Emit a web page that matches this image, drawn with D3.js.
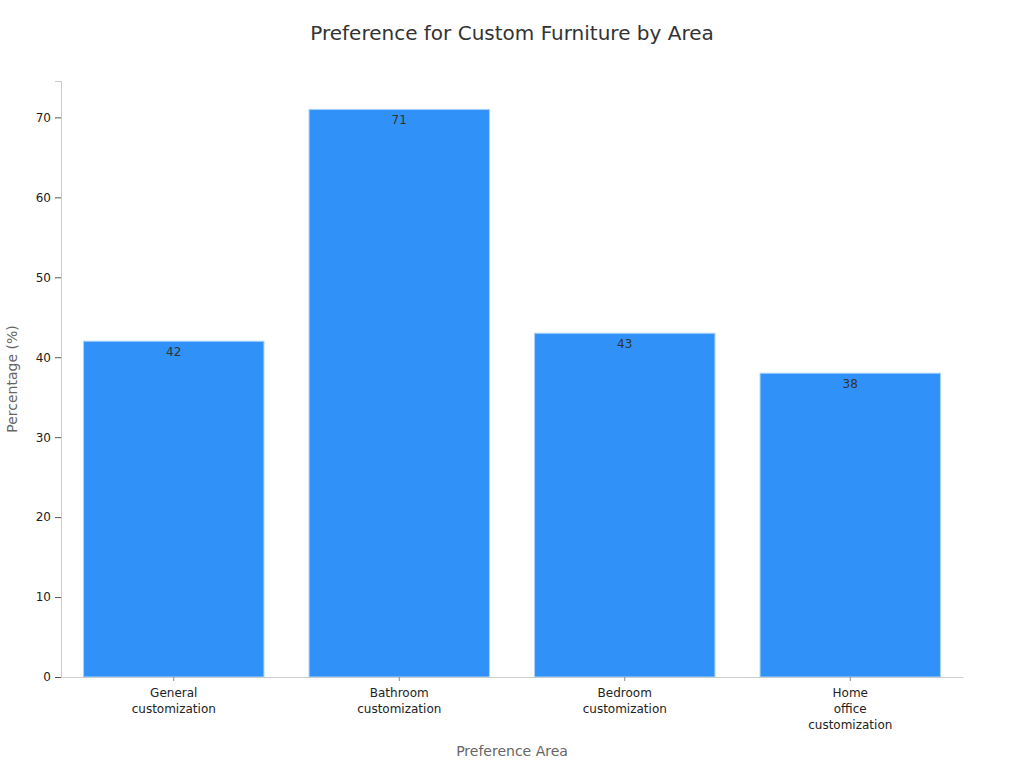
<html>
<script src='https://d3js.org/d3.v7.min.js'></script>
<head>
    <meta charset="UTF-8">
    <title>Preference for Custom Furniture by Area</title>
    <style>
        body { margin: 0; background: #fff; font-family: 'DejaVu Sans', sans-serif; }
    </style>
</head>
<body onload='init()'>
<svg width=1024 height=768></svg>
<script>
    const areas = ['General customization', 'Bathroom customization', 'Bedroom customization', 'Home office customization']
    const percents = [42, 71, 43, 38]
    const yTicks = [0, 10, 20, 30, 40, 50, 60, 70]

    function init() {
        const left = 61, right = 963, top = 81, bottom = 677
        const svg = d3.select('svg')

        const sx = d3.scaleBand().domain(areas).range([left, right]).paddingInner(0.2).paddingOuter(0.1)
        const sy = d3.scaleLinear().domain([0, d3.max(percents) * 1.05]).range([bottom, top])

        svg.append('text')
            .attr('x', 512).attr('y', 40)
            .attr('text-anchor', 'middle')
            .style('font-size', '20px').style('fill', '#333')
            .text('Preference for Custom Furniture by Area')

        svg.append('g').selectAll('rect').data(areas).enter()
            .append('rect')
            .attr('x', d => sx(d))
            .attr('y', (d, i) => sy(percents[i]))
            .attr('width', sx.bandwidth())
            .attr('height', (d, i) => bottom - sy(percents[i]))
            .attr('fill', '#3091f8')
            .attr('stroke', '#a9d2fb')
            .attr('stroke-width', 1)

        svg.append('g').selectAll('text').data(areas).enter()
            .append('text')
            .attr('x', d => sx(d) + sx.bandwidth() / 2)
            .attr('y', (d, i) => sy(percents[i]) + 15)
            .attr('text-anchor', 'middle')
            .style('font-size', '12px').style('fill', '#333')
            .text((d, i) => percents[i])

        const yAxis = svg.append('g')
            .attr('transform', 'translate(' + left + ',0)')
            .call(d3.axisLeft(sy).tickValues(yTicks).tickSize(6).tickPadding(4))
        yAxis.select('.domain').attr('stroke', '#ccc')
        yAxis.selectAll('.tick line').attr('stroke', '#555')
        yAxis.selectAll('.tick text').style('font-size', '12px').style('fill', '#222').style('font-family', 'DejaVu Sans')

        const xAxis = svg.append('g')
            .attr('transform', 'translate(0,' + bottom + ')')
            .call(d3.axisBottom(sx).tickSize(4).tickSizeOuter(0))
        xAxis.select('.domain').attr('stroke', '#ccc')
        xAxis.selectAll('.tick line').attr('stroke', '#888')
        xAxis.selectAll('.tick text').remove()
        xAxis.selectAll('.tick').each(function (d) {
            const t = d3.select(this).append('text')
                .attr('text-anchor', 'middle')
                .style('font-size', '12px').style('fill', '#222').style('font-family', 'DejaVu Sans')
            d.split(' ').forEach((w, i) => {
                t.append('tspan').attr('x', 0).attr('y', 20 + i * 16).text(w)
            })
        })

        svg.append('text')
            .attr('transform', 'translate(17,' + ((top + bottom) / 2) + ') rotate(-90)')
            .attr('text-anchor', 'middle')
            .style('font-size', '14px').style('fill', '#666')
            .text('Percentage (%)')

        svg.append('text')
            .attr('x', (left + right) / 2).attr('y', 756)
            .attr('text-anchor', 'middle')
            .style('font-size', '14px').style('fill', '#666')
            .text('Preference Area')
    }
</script>
</body>
</html>
